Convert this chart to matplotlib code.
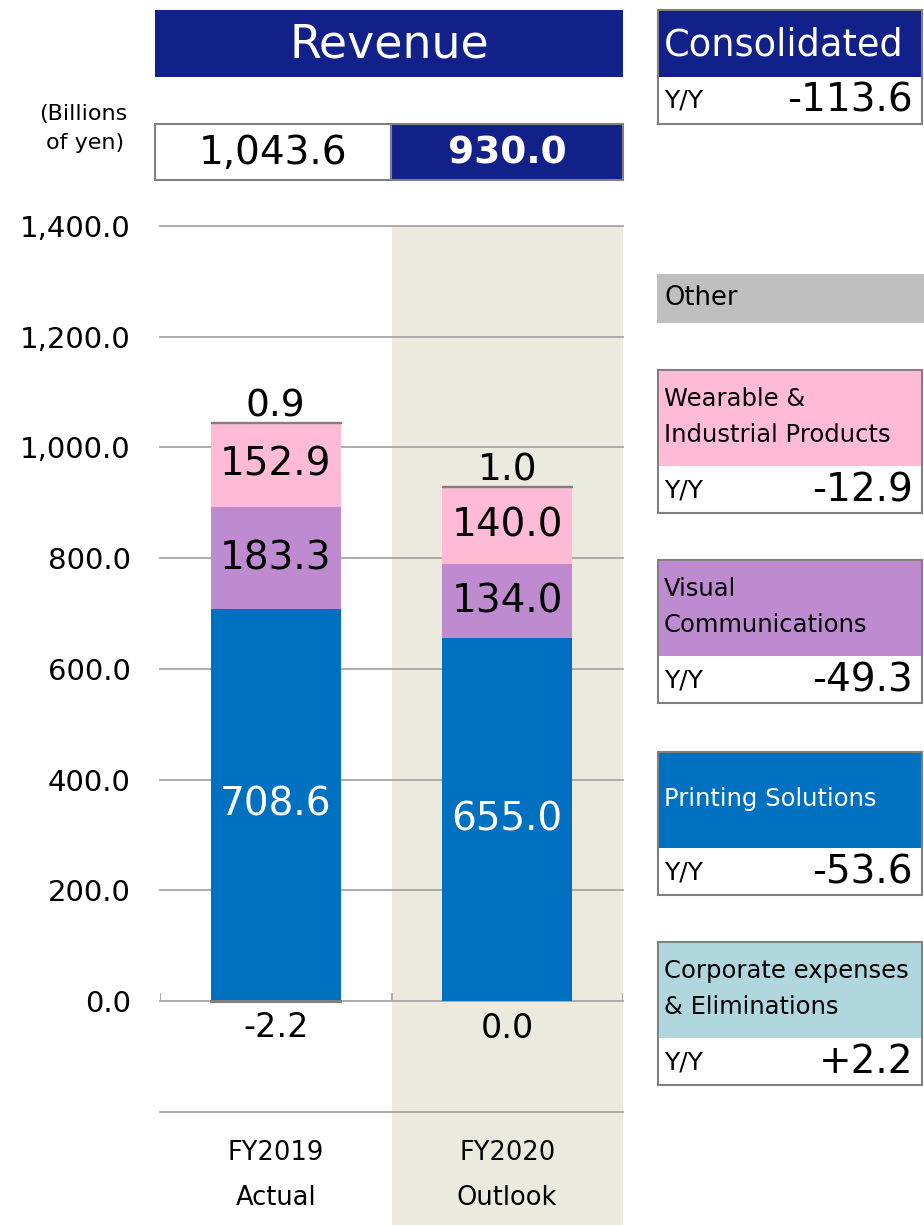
import matplotlib.pyplot as plt
from matplotlib.patches import Rectangle

W, H = 924, 1225

# data
categories = ['FY2019', 'FY2020']
category_notes = ['Actual', 'Outlook']
printing = [708.6, 655.0]
visual = [183.3, 134.0]
wearable = [152.9, 140.0]
other = [0.9, 1.0]
corporate = [-2.2, 0.0]
totals = [1043.6, 930.0]
yy_consolidated = -113.6
panel_titles = [['Wearable &', 'Industrial Products'],
                ['Visual', 'Communications'],
                ['Printing Solutions'],
                ['Corporate expenses', '& Eliminations']]
panel_yy = [-12.9, -49.3, -53.6, 2.2]

# colours
NAVY = '#12218A'
BLUE = '#0070C0'
PURPLE = '#BE8AD0'
PINK = '#FFBAD6'
GRAY = '#BFBFBF'
CORP = '#B0D6DE'
TAN = '#ECE9DF'
LINE = '#A6A6A6'
BORDER = '#808080'

plt.rcParams['font.family'] = ['DejaVu Sans']

fig = plt.figure(figsize=(W / 100, H / 100), dpi=100)


def fx(px):
    return px / W


def fy(py):
    return 1 - py / H


def box(x0, y0, x1, y1, fc, ec='none', lw=0):
    fig.add_artist(Rectangle((fx(x0), fy(y1)), fx(x1) - fx(x0), fy(y0) - fy(y1),
                             transform=fig.transFigure, facecolor=fc,
                             edgecolor=ec, linewidth=lw))


def label(px, py, s, **kw):
    fig.text(fx(px), fy(py), s, va='center', **kw)


# chart axes: 0 at y=1001px, 1400 at y=226px, runs to bottom of figure
px_per = (1001 - 226) / 1400
ybot = -(1225 - 1001) / px_per
ax = fig.add_axes([fx(160), 0, fx(623) - fx(160), fy(226)])
ax.set_xlim(0, 2)
ax.set_ylim(ybot, 1400)
for s in ax.spines.values():
    s.set_visible(False)
ax.set_xticks([])
ax.set_yticks(range(0, 1401, 200))
ax.set_yticklabels([f'{v:,.1f}' for v in range(0, 1401, 200)], fontsize=21)
ax.tick_params(axis='y', length=0, pad=21)

ax.axvspan(1, 2, color=TAN, zorder=0, lw=0)
for v in list(range(0, 1401, 200)) + [-200]:
    ax.axhline(v, color=LINE, lw=1.3, zorder=1, clip_on=False)
ax.vlines([0, 1, 2], 0, 8 / px_per, color=LINE, lw=1.3, zorder=1)

x = [0.5, 1.5]
bw = 0.56
b1 = printing
b2 = [a + b for a, b in zip(b1, visual)]
b3 = [a + b for a, b in zip(b2, wearable)]
tops = [a + b for a, b in zip(b3, other)]
ax.bar(x, printing, bw, color=BLUE, zorder=3)
ax.bar(x, visual, bw, bottom=b1, color=PURPLE, zorder=3)
ax.bar(x, wearable, bw, bottom=b2, color=PINK, zorder=3)
ax.bar(x, other, bw, bottom=b3, color=GRAY, edgecolor=BORDER, lw=1, zorder=3)
ax.bar(x, corporate, bw, color=CORP, edgecolor=BORDER,
       lw=[1.5 if c else 0 for c in corporate], zorder=3)

for i in range(2):
    ax.text(x[i], printing[i] / 2, f'{printing[i]:.1f}', ha='center', va='center',
            fontsize=28, color='white', zorder=4)
    ax.text(x[i], b1[i] + visual[i] / 2, f'{visual[i]:.1f}', ha='center', va='center',
            fontsize=28, zorder=4)
    ax.text(x[i], b2[i] + wearable[i] / 2, f'{wearable[i]:.1f}', ha='center', va='center',
            fontsize=28, zorder=4)
    ax.annotate(f'{other[i]:.1f}', (x[i], tops[i]), xytext=(0, -2), textcoords='offset points',
                ha='center', va='bottom', fontsize=27)
    ax.text(x[i], -48 - 2.5 * i, f'{corporate[i]:.1f}', ha='center', va='center', fontsize=24)
    ax.text(x[i], -275, categories[i], ha='center', va='center', fontsize=18.5)
    ax.text(x[i], -355, category_notes[i], ha='center', va='center', fontsize=18.5)

# header above chart
box(155, 10, 623, 77, NAVY)
label(389, 45, 'Revenue', ha='center', fontsize=33, color='white')
box(155, 124, 391, 180, 'white', BORDER, 1.5)
box(391, 124, 623, 180, NAVY, BORDER, 1.5)
label(273, 153, f'{totals[0]:,.1f}', ha='center', fontsize=28)
label(507, 153, f'{totals[1]:,.1f}', ha='center', fontsize=27, color='white', weight='bold')
label(127, 114, '(Billions', ha='right', fontsize=16)
label(124, 143, 'of yen)', ha='right', fontsize=16)

# right-hand panels
box(658, 10, 922, 124, 'white', BORDER, 1.5)
box(659, 11, 921, 77, NAVY)
label(664, 45, 'Consolidated', ha='left', fontsize=26.5, color='white')
label(664, 101, 'Y/Y', ha='left', fontsize=18)
label(913, 101, f'{yy_consolidated:+.1f}', ha='right', fontsize=28)

box(657, 274, 924, 323, GRAY)
label(664, 298, 'Other', ha='left', fontsize=18.5)

panel_colors = [PINK, PURPLE, BLUE, CORP]
panel_text = ['black', 'black', 'white', 'black']
panel_top = [370, 560, 752, 942]
for title, yy, col, tc, top in zip(panel_titles, panel_yy, panel_colors, panel_text, panel_top):
    box(658, top, 922, top + 143, 'white', BORDER, 1.5)
    box(659, top + 1, 921, top + 96, col)
    if len(title) == 2:
        label(664, top + 29, title[0], ha='left', fontsize=17.5, color=tc)
        label(664, top + 65, title[1], ha='left', fontsize=17.5, color=tc)
    else:
        label(664, top + 47, title[0], ha='left', fontsize=17.5, color=tc)
    label(664, top + 120, 'Y/Y', ha='left', fontsize=18)
    label(913, top + 120, f'{yy:+.1f}', ha='right', fontsize=28)

fig.savefig('out.png', dpi=100)
